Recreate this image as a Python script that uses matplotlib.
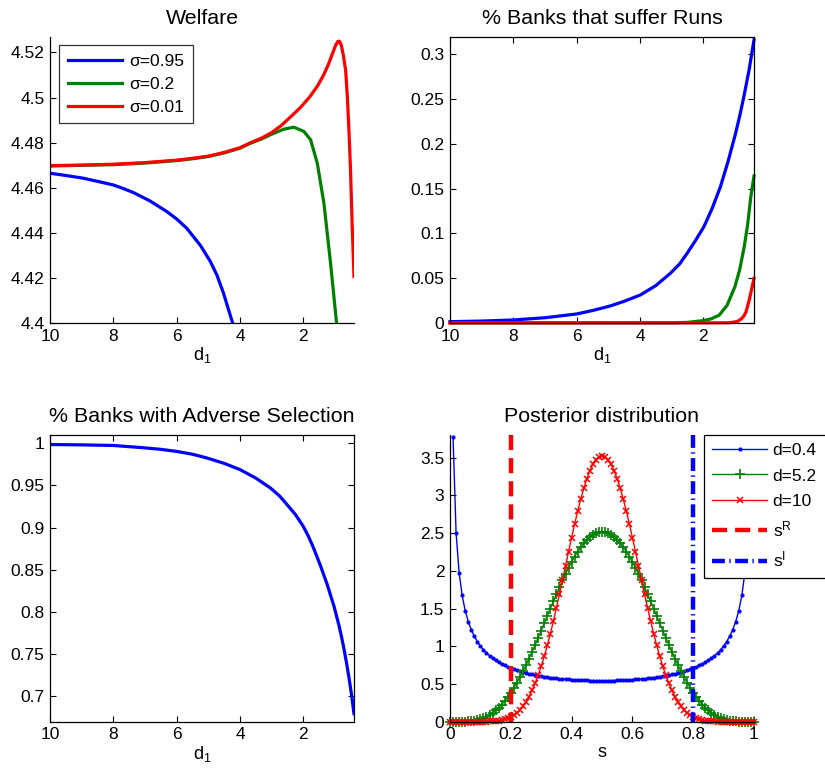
import numpy as np
import matplotlib
matplotlib.use('Agg')
import matplotlib.pyplot as plt
from matplotlib.ticker import FormatStrFormatter

plt.rcParams['font.family'] = ['Liberation Sans', 'DejaVu Sans']
plt.rcParams['mathtext.fontset'] = 'custom'
plt.rcParams['mathtext.rm'] = 'Liberation Sans'
plt.rcParams['mathtext.it'] = 'Liberation Sans'

BLUE = (0, 0, 1)
GREEN = (0, 0.5, 0)
RED = (1, 0, 0)

# ---- Welfare (top left), x = d1
wel_d_hi = [10, 9, 8, 7, 6, 5.5, 5, 4.5, 4, 3.67, 3.3, 3.0, 2.7, 2.4, 2.1, 1.8, 1.55,
            1.35, 1.2, 1.08, 0.98, 0.91, 0.86, 0.8, 0.74, 0.665, 0.61, 0.56, 0.51, 0.46, 0.4]
wel_hi = [4.4699, 4.4701, 4.4705, 4.4712, 4.4723, 4.4731, 4.4741, 4.4757, 4.4778, 4.4800,
          4.4822, 4.4845, 4.4876, 4.4915, 4.4955, 4.5003, 4.5052,
          4.5103, 4.5150, 4.5195, 4.5232, 4.5249, 4.5250, 4.5232, 4.5190, 4.5123, 4.5005,
          4.4857, 4.4680, 4.4443, 4.4207]
wel_d_mid = [10, 9, 8, 7, 6, 5.5, 5, 4.5, 4, 3.67, 3.3, 3.0, 2.62, 2.3, 1.98, 1.77, 1.56,
             1.35, 1.14, 0.95, 0.85]
wel_mid = [4.4697, 4.4700, 4.4703, 4.4710, 4.4721, 4.4729, 4.4739, 4.4755, 4.4776, 4.4798,
           4.4818, 4.4838, 4.4860, 4.4869, 4.4850, 4.4813, 4.4710, 4.4532, 4.4266, 4.4000,
           4.3850]
wel_d_lo = [10, 9.5, 8.95, 8.5, 8.0, 7.7, 7.36, 6.84, 6.31, 5.99, 5.68, 5.25, 4.94, 4.73,
            4.52, 4.23, 4.1]
wel_lo = [4.4665, 4.4655, 4.4643, 4.4629, 4.4613, 4.4598, 4.4579, 4.4542, 4.4495, 4.4461,
          4.4421, 4.4345, 4.4275, 4.4214, 4.4133, 4.4000, 4.3940]

# ---- Runs (top right)
run_d_lo = [10, 9, 8, 7, 6, 5.5, 4.94, 4.5, 3.99, 3.5, 3.04, 2.75, 2.51, 2.25, 1.98, 1.72,
            1.46, 1.22, 0.98, 0.85, 0.72, 0.55, 0.4]
run_lo = [0.0018, 0.0025, 0.0037, 0.0062, 0.0104, 0.0142, 0.0193, 0.0245, 0.0315, 0.0420,
          0.0557, 0.0660, 0.0780, 0.0920, 0.1076, 0.1280, 0.1520, 0.1800, 0.2116, 0.2310,
          0.2523, 0.2830, 0.3155]
run_d_mid = [10, 6, 3, 2.5, 2.0, 1.75, 1.5, 1.25, 1.0, 0.85, 0.71, 0.6, 0.5, 0.4]
run_mid = [0.0005, 0.0005, 0.0006, 0.0010, 0.0030, 0.0050, 0.0090, 0.0200, 0.0410, 0.0600,
           0.0850, 0.1100, 0.1410, 0.1640]
run_d_hi = [10, 6, 2, 1.2, 1.0, 0.9, 0.8, 0.71, 0.65, 0.55, 0.48, 0.4]
run_hi = [0.0005, 0.0005, 0.0005, 0.0006, 0.0015, 0.0025, 0.0050, 0.0085, 0.0130, 0.0260,
          0.0370, 0.0500]

# ---- Adverse selection (bottom left)
adv_d = [10, 9, 8.0, 7.05, 6.5, 5.99, 5.5, 5.04, 4.5, 3.99, 3.5, 3.04, 2.75, 2.51, 2.25,
         2.0, 1.85, 1.72, 1.6, 1.46, 1.25, 1.03, 0.877, 0.8, 0.72, 0.64, 0.56, 0.48, 0.4]
adv = [0.9985, 0.9981, 0.9974, 0.9947, 0.9928, 0.9903, 0.9870, 0.9825, 0.9762, 0.9686,
       0.9587, 0.9470, 0.9375, 0.9271, 0.9155, 0.9014, 0.8905, 0.8797, 0.8685, 0.8550,
       0.8330, 0.8066, 0.7844, 0.7717, 0.7569, 0.7405, 0.7225, 0.7025, 0.6795]

# ---- Posterior distribution (bottom right)
s = [0.00, 0.01, 0.02, 0.03, 0.04, 0.05, 0.06, 0.07, 0.08, 0.09,
     0.10, 0.11, 0.12, 0.13, 0.14, 0.15, 0.16, 0.17, 0.18, 0.19,
     0.20, 0.21, 0.22, 0.23, 0.24, 0.25, 0.26, 0.27, 0.28, 0.29,
     0.30, 0.31, 0.32, 0.33, 0.34, 0.35, 0.36, 0.37, 0.38, 0.39,
     0.40, 0.41, 0.42, 0.43, 0.44, 0.45, 0.46, 0.47, 0.48, 0.49,
     0.50, 0.51, 0.52, 0.53, 0.54, 0.55, 0.56, 0.57, 0.58, 0.59,
     0.60, 0.61, 0.62, 0.63, 0.64, 0.65, 0.66, 0.67, 0.68, 0.69,
     0.70, 0.71, 0.72, 0.73, 0.74, 0.75, 0.76, 0.77, 0.78, 0.79,
     0.80, 0.81, 0.82, 0.83, 0.84, 0.85, 0.86, 0.87, 0.88, 0.89,
     0.90, 0.91, 0.92, 0.93, 0.94, 0.95, 0.96, 0.97, 0.98, 0.99, 1.00]
post_d04 = [np.nan, 3.773, 2.504, 1.976, 1.673, 1.472, 1.328, 1.219, 1.132, 1.062,
            1.003, 0.954, 0.912, 0.875, 0.843, 0.814, 0.789, 0.766, 0.746, 0.727,
            0.711, 0.695, 0.681, 0.669, 0.657, 0.646, 0.636, 0.627, 0.619, 0.611,
            0.604, 0.597, 0.591, 0.585, 0.580, 0.575, 0.571, 0.567, 0.563, 0.560,
            0.557, 0.554, 0.552, 0.550, 0.548, 0.547, 0.546, 0.545, 0.544, 0.544,
            0.544, 0.544, 0.544, 0.545, 0.546, 0.547, 0.548, 0.550, 0.552, 0.554,
            0.557, 0.560, 0.563, 0.567, 0.571, 0.575, 0.580, 0.585, 0.591, 0.597,
            0.604, 0.611, 0.619, 0.627, 0.636, 0.646, 0.657, 0.669, 0.681, 0.695,
            0.711, 0.727, 0.746, 0.766, 0.789, 0.814, 0.843, 0.875, 0.912, 0.954,
            1.003, 1.062, 1.132, 1.219, 1.328, 1.472, 1.673, 1.976, 2.504, 3.773, np.nan]
post_d52 = [0.000, 0.000, 0.000, 0.000, 0.001, 0.002, 0.005, 0.009, 0.015, 0.023,
            0.034, 0.049, 0.067, 0.090, 0.117, 0.149, 0.185, 0.227, 0.275, 0.327,
            0.385, 0.449, 0.517, 0.590, 0.668, 0.750, 0.836, 0.925, 1.018, 1.112,
            1.208, 1.305, 1.402, 1.500, 1.596, 1.690, 1.783, 1.872, 1.958, 2.040,
            2.116, 2.188, 2.253, 2.312, 2.364, 2.408, 2.445, 2.474, 2.495, 2.508,
            2.512, 2.508, 2.495, 2.474, 2.445, 2.408, 2.364, 2.312, 2.253, 2.188,
            2.116, 2.040, 1.958, 1.872, 1.783, 1.690, 1.596, 1.500, 1.402, 1.305,
            1.208, 1.112, 1.018, 0.925, 0.836, 0.750, 0.668, 0.590, 0.517, 0.449,
            0.385, 0.327, 0.275, 0.227, 0.185, 0.149, 0.117, 0.090, 0.067, 0.049,
            0.034, 0.023, 0.015, 0.009, 0.005, 0.002, 0.001, 0.000, 0.000, 0.000, 0.000]
post_d10 = [0.0000, 0.0000, 0.0000, 0.0000, 0.0000, 0.0000, 0.0000, 0.0000, 0.0001, 0.0002,
            0.0004, 0.0008, 0.0015, 0.0028, 0.0049, 0.0082, 0.0132, 0.0205, 0.0307, 0.0447,
            0.0635, 0.0879, 0.1192, 0.1583, 0.2064, 0.2646, 0.3337, 0.4147, 0.5081, 0.6144,
            0.7337, 0.8659, 1.0104, 1.1665, 1.3328, 1.5080, 1.6901, 1.8769, 2.0661, 2.2549,
            2.4404, 2.6199, 2.7904, 2.9489, 3.0927, 3.2192, 3.3261, 3.4114, 3.4735, 3.5113,
            3.5239, 3.5113, 3.4735, 3.4114, 3.3261, 3.2192, 3.0927, 2.9489, 2.7904, 2.6199,
            2.4404, 2.2549, 2.0661, 1.8769, 1.6901, 1.5080, 1.3328, 1.1665, 1.0104, 0.8659,
            0.7337, 0.6144, 0.5081, 0.4147, 0.3337, 0.2646, 0.2064, 0.1583, 0.1192, 0.0879,
            0.0635, 0.0447, 0.0307, 0.0205, 0.0132, 0.0082, 0.0049, 0.0028, 0.0015, 0.0008,
            0.0004, 0.0002, 0.0001, 0.0000, 0.0000, 0.0000, 0.0000, 0.0000, 0.0000, 0.0000, 0.0000]
s_R = 0.2
s_I = 0.8
post_ymax = 3.8

W, H = 825, 781
fig = plt.figure(figsize=(W / 100, H / 100), dpi=100)


def make_axes(left, top, right, bottom, box):
    ax = fig.add_axes([left / W, 1 - bottom / H, (right - left) / W, (bottom - top) / H])
    ax.tick_params(direction='in', length=4, width=0.8, labelsize=12.5, pad=4,
                   top=box, right=box)
    for sp in ax.spines.values():
        sp.set_linewidth(0.9)
    if not box:
        ax.spines['top'].set_visible(False)
        ax.spines['right'].set_visible(False)
    ax.yaxis.set_major_formatter(FormatStrFormatter('%g'))
    ax.xaxis.set_major_formatter(FormatStrFormatter('%g'))
    return ax


LW = 2.3
TITLE = dict(fontsize=15.4, pad=9)
XLAB = r'$\mathregular{d_1}$'

# top left
ax1 = make_axes(50, 36.7, 354, 323.3, False)
ax1.plot(wel_d_lo, wel_lo, color=BLUE, lw=LW, label='σ=0.95')
ax1.plot(wel_d_mid, wel_mid, color=GREEN, lw=LW, label='σ=0.2')
ax1.plot(wel_d_hi, wel_hi, color=RED, lw=LW, label='σ=0.01')
ax1.set_xlim(10, 0.4)
ax1.set_ylim(4.4, 4.527)
ax1.set_xticks([10, 8, 6, 4, 2])
ax1.set_yticks([4.4, 4.42, 4.44, 4.46, 4.48, 4.5, 4.52])
ax1.set_title('Welfare', **TITLE)
ax1.set_xlabel(XLAB, fontsize=13, labelpad=1)
leg1 = ax1.legend(loc='upper left', bbox_to_anchor=(0.031, 0.971), borderaxespad=0,
                  fancybox=False, edgecolor='black', fontsize=12.5, handlelength=3.1,
                  handletextpad=0.4, labelspacing=0.45, borderpad=0.5)
leg1.get_frame().set_linewidth(0.9)

# top right
ax2 = make_axes(450, 36.7, 754, 323.3, True)
ax2.plot(run_d_lo, run_lo, color=BLUE, lw=LW, clip_on=False)
ax2.plot(run_d_mid, run_mid, color=GREEN, lw=LW, clip_on=False)
ax2.plot(run_d_hi, run_hi, color=RED, lw=LW, clip_on=False)
ax2.set_xlim(10, 0.4)
ax2.set_ylim(0, 0.319)
ax2.set_xticks([10, 8, 6, 4, 2])
ax2.set_yticks([0, 0.05, 0.1, 0.15, 0.2, 0.25, 0.3])
ax2.set_title('% Banks that suffer Runs', **TITLE)
ax2.set_xlabel(XLAB, fontsize=13, labelpad=1)

# bottom left
ax3 = make_axes(50, 435, 354, 721.7, True)
ax3.plot(adv_d, adv, color=BLUE, lw=LW)
ax3.set_xlim(10, 0.4)
ax3.set_ylim(0.670, 1.0098)
ax3.set_xticks([10, 8, 6, 4, 2])
ax3.set_yticks([0.7, 0.75, 0.8, 0.85, 0.9, 0.95, 1])
ax3.set_title('% Banks with Adverse Selection', **TITLE)
ax3.set_xlabel(XLAB, fontsize=13, labelpad=1)

# bottom right
ax4 = make_axes(450, 435, 754, 721.7, False)
ax4.plot(s, post_d04, color=BLUE, lw=1, marker='.', ms=4, label='d=0.4', clip_on=False)
ax4.plot(s, post_d52, color=GREEN, lw=1, marker='+', ms=7, mew=1.2, label='d=5.2', clip_on=False)
ax4.plot(s, post_d10, color=RED, lw=1, marker='x', ms=5, mew=1.1, label='d=10', clip_on=False)
ax4.plot([s_R, s_R], [post_ymax, 0], color=RED, lw=3.2, ls='--', dashes=(3.4, 1.8),
         label=r'$\mathregular{s^R}$')
ax4.plot([s_I, s_I], [post_ymax, 0], color=BLUE, lw=3.2, ls='-.', dashes=(2.9, 1.0, 0.3, 1.0),
         label=r'$\mathregular{s^I}$')
ax4.set_xlim(0, 1)
ax4.set_ylim(0, post_ymax)
ax4.set_xticks([0, 0.2, 0.4, 0.6, 0.8, 1])
ax4.set_yticks([0, 0.5, 1, 1.5, 2, 2.5, 3, 3.5])
ax4.set_title('Posterior distribution', **TITLE)
ax4.set_xlabel('s', fontsize=13, labelpad=1)
leg4 = ax4.legend(loc='upper left', bbox_to_anchor=(704 / W, 1 - 435 / H - 0.2, 130 / W, 0.2),
                  bbox_transform=fig.transFigure, mode='expand', borderaxespad=0,
                  fancybox=False, edgecolor='black', fontsize=12.5, handlelength=3.2,
                  handletextpad=0.3, labelspacing=0.6, borderpad=0.45, framealpha=1)
leg4.get_frame().set_linewidth(0.9)

fig.savefig('out.png', dpi=100)
